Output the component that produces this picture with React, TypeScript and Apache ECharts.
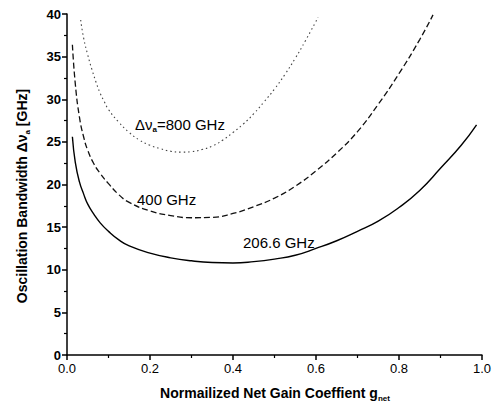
import React, { useEffect, useRef } from "react";
import * as echarts from "echarts";

const xTicks = [0, 0.2, 0.4, 0.6, 0.8, 1.0];
const yTicks = [0, 5, 10, 15, 20, 25, 30, 35, 40];

const g206 = [0.013, 0.02, 0.03, 0.04, 0.05, 0.065, 0.08, 0.1, 0.125, 0.15, 0.2, 0.25, 0.3, 0.35, 0.4, 0.45, 0.5, 0.55, 0.6, 0.65, 0.7, 0.75, 0.8, 0.85, 0.9, 0.95, 0.987];
const v206 = [25.6, 22.6, 20.3, 18.9, 17.7, 16.5, 15.5, 14.5, 13.5, 12.8, 11.95, 11.4, 11.05, 10.85, 10.8, 10.95, 11.25, 11.7, 12.5, 13.4, 14.5, 15.7, 17.3, 19.3, 21.9, 24.6, 27.0];

const g400 = [0.013, 0.02, 0.03, 0.04, 0.05, 0.065, 0.08, 0.1, 0.125, 0.15, 0.2, 0.25, 0.3, 0.35, 0.4, 0.45, 0.5, 0.55, 0.6, 0.65, 0.7, 0.75, 0.8, 0.85, 0.882];
const v400 = [36.4, 31.8, 27.9, 25.6, 24.0, 22.4, 21.3, 20.1, 18.8, 17.9, 16.9, 16.35, 16.1, 16.15, 16.6, 17.4, 18.4, 19.8, 21.6, 23.7, 26.2, 29.4, 33.0, 37.0, 39.9];

const g800 = [0.033, 0.04, 0.05, 0.06, 0.07, 0.08, 0.09, 0.1, 0.125, 0.15, 0.175, 0.2, 0.225, 0.25, 0.275, 0.3, 0.325, 0.35, 0.375, 0.4, 0.425, 0.45, 0.475, 0.5, 0.525, 0.55, 0.575, 0.605];
const v800 = [39.3, 37.2, 35.2, 33.5, 32.0, 30.7, 29.7, 28.8, 27.3, 26.1, 25.2, 24.6, 24.2, 23.9, 23.8, 23.85, 24.1, 24.5, 25.2, 26.1, 27.1, 28.3, 29.7, 31.2, 32.9, 34.8, 36.9, 39.6];

const seriesNames = ["206.6 GHz", "400 GHz", "800 GHz"];

const zip = (xs: number[], ys: number[]) => xs.map((x, i) => [x, ys[i]]);

export default function App() {
  const ref = useRef<HTMLDivElement>(null);
  useEffect(() => {
    document.body.style.margin = "0";
    if (!ref.current) return;
    const chart = echarts.init(ref.current, null, { renderer: "svg" });
    const font = "Liberation Sans, Arial, sans-serif";
    const subRich = {
      m: { fontFamily: font, fontSize: 14, fontWeight: "bold", fill: "#000", lineHeight: 18 },
      s: { fontFamily: font, fontSize: 8, fontWeight: "bold", fill: "#000", lineHeight: 18, verticalAlign: "bottom", padding: [7, 0, 0, 0] },
    };
    chart.setOption({
      animation: false,
      backgroundColor: "#fff",
      grid: { left: 67, right: 12, top: 14, bottom: 57 },
      xAxis: {
        type: "value",
        min: xTicks[0],
        max: xTicks[xTicks.length - 1],
        interval: 0.2,
        axisLine: { show: true, lineStyle: { color: "#000", width: 1.5 } },
        axisTick: { show: true, inside: false, length: 5, lineStyle: { color: "#000", width: 1.5 } },
        minorTick: { show: true, splitNumber: 2, length: 3, lineStyle: { color: "#000", width: 1.2 } },
        splitLine: { show: false },
        axisLabel: {
          color: "#000",
          fontFamily: font,
          fontSize: 13,
          margin: 7,
          formatter: (v: number) => v.toFixed(1),
        },
      },
      yAxis: {
        type: "value",
        min: yTicks[0],
        max: yTicks[yTicks.length - 1],
        interval: 5,
        axisLine: { show: true, lineStyle: { color: "#000", width: 1.5 } },
        axisTick: { show: true, inside: false, length: 5, lineStyle: { color: "#000", width: 1.5 } },
        minorTick: { show: true, splitNumber: 2, length: 3, lineStyle: { color: "#000", width: 1.2 } },
        splitLine: { show: false },
        axisLabel: {
          color: "#000",
          fontFamily: font,
          fontSize: 13,
          fontWeight: "bold",
          margin: 6,
        },
      },
      series: [
        {
          name: seriesNames[0],
          type: "line",
          smooth: 0.5,
          showSymbol: false,
          data: zip(g206, v206),
          lineStyle: { color: "#000", width: 1.4, type: "solid" },
        },
        {
          name: seriesNames[1],
          type: "line",
          smooth: 0.5,
          showSymbol: false,
          data: zip(g400, v400),
          lineStyle: { color: "#111", width: 1.3, type: [6, 3] },
        },
        {
          name: seriesNames[2],
          type: "line",
          smooth: 0.5,
          showSymbol: false,
          data: zip(g800, v800),
          lineStyle: { color: "#444", width: 1.1, type: [1.5, 3] },
        },
      ],
      graphic: [
        {
          type: "text",
          x: 22,
          y: 196,
          rotation: Math.PI / 2,
          style: {
            text: "{m|Oscillation Bandwidth Δν}{s|a}{m| [GHz]}",
            align: "center",
            verticalAlign: "middle",
            fill: "#000",
            rich: subRich,
          },
        },
        {
          type: "text",
          x: 275,
          y: 393,
          style: {
            text: "{m|Normailized Net Gain Coeffient g}{s|net}",
            align: "center",
            verticalAlign: "middle",
            fill: "#000",
            rich: subRich,
          },
        },
        {
          type: "text",
          x: 135,
          y: 124,
          style: {
            text: "{m|Δν}{s|a}{m|=800 GHz}",
            align: "left",
            verticalAlign: "middle",
            fill: "#000",
            rich: {
              m: { fontFamily: font, fontSize: 15, fill: "#000", lineHeight: 18 },
              s: { fontFamily: font, fontSize: 8, fontWeight: "bold", fill: "#000", lineHeight: 18, verticalAlign: "bottom", padding: [7, 0, 0, 0] },
            },
          },
        },
        {
          type: "text",
          x: 137,
          y: 199,
          style: { text: "400 GHz", align: "left", verticalAlign: "middle", fill: "#000", font: `15px ${font}` },
        },
        {
          type: "text",
          x: 243,
          y: 242,
          style: { text: "206.6 GHz", align: "left", verticalAlign: "middle", fill: "#000", font: `15px ${font}` },
        },
      ],
    });
    return () => chart.dispose();
  }, []);
  return <div ref={ref} style={{ width: 494, height: 412 }} />;
}
